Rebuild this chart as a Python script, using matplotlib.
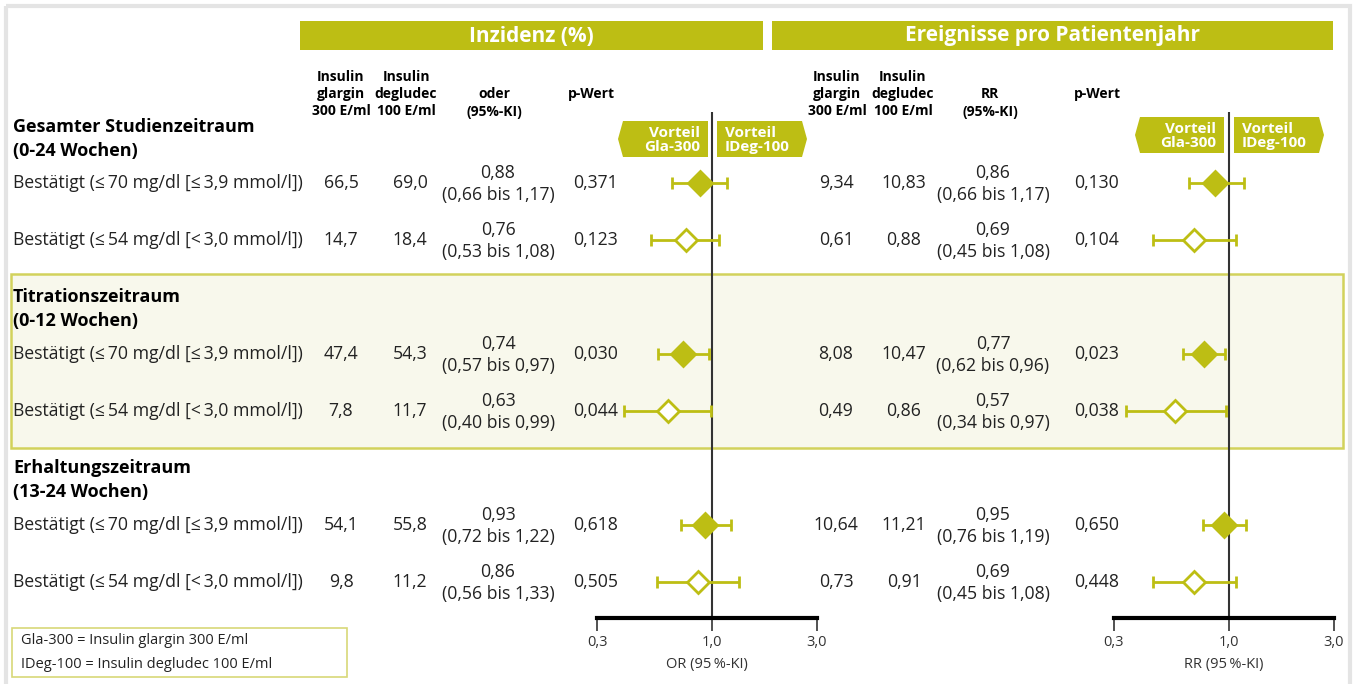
import matplotlib
matplotlib.use("Agg")
import matplotlib.pyplot as plt
from matplotlib.patches import Rectangle, Polygon
from matplotlib.ticker import FixedLocator, NullLocator

# ---- data -----------------------------------------------------------------
sections = ["Gesamter Studienzeitraum\n(0-24 Wochen)",
            "Titrationszeitraum\n(0-12 Wochen)",
            "Erhaltungszeitraum\n(13-24 Wochen)"]
row_labels = ["Bestätigt (≤\u200970 mg/dl [≤\u20093,9 mmol/l])",
              "Bestätigt (≤\u200954 mg/dl [<\u20093,0 mmol/l])"] * 3
filled = [True, False, True, False, True, False]

inc_gla = [66.5, 14.7, 47.4, 7.8, 54.1, 9.8]
inc_ideg = [69.0, 18.4, 54.3, 11.7, 55.8, 11.2]
or_est = [0.88, 0.76, 0.74, 0.63, 0.93, 0.86]
or_lo = [0.66, 0.53, 0.57, 0.40, 0.72, 0.56]
or_hi = [1.17, 1.08, 0.97, 0.99, 1.22, 1.33]
or_p = [0.371, 0.123, 0.030, 0.044, 0.618, 0.505]

rate_gla = [9.34, 0.61, 8.08, 0.49, 10.64, 0.73]
rate_ideg = [10.83, 0.88, 10.47, 0.86, 11.21, 0.91]
rr_est = [0.86, 0.69, 0.77, 0.57, 0.95, 0.69]
rr_lo = [0.66, 0.45, 0.62, 0.34, 0.76, 0.45]
rr_hi = [1.17, 1.08, 0.96, 0.97, 1.19, 1.08]
rr_p = [0.130, 0.104, 0.023, 0.038, 0.650, 0.448]

axis_ticks = [0.3, 1.0, 3.0]
axis_ticklabels = ["0,3", "1,0", "3,0"]

# ---- style ----------------------------------------------------------------
OLIVE = "#bdbe14"
TXT = "#222222"
FONT = ["Open Sans", "DejaVu Sans"]
plt.rcParams["font.family"] = FONT
FS = 12.7

W, H = 1353, 684
fig = plt.figure(figsize=(W / 100, H / 100), dpi=100)
bg = fig.add_axes([0, 0, 1, 1])
bg.set_xlim(0, W)
bg.set_ylim(H, 0)
bg.axis("off")


def de(v, nd):
    return f"{v:.{nd}f}".replace(".", ",")


# outer frame
bg.add_patch(Rectangle((6, 6), W - 9, H, fill=False, ec="#e4e4e4", lw=3))

# highlighted middle section
bg.add_patch(Rectangle((11, 274), 1332, 174, fc="#f8f8ec", ec="#d2d25c", lw=1.8))

# banner bars
for x0, x1, title in [(300, 763, "Inzidenz (%)"),
                      (772, 1333, "Ereignisse pro Patientenjahr")]:
    bg.add_patch(Rectangle((x0, 21), x1 - x0, 29, fc=OLIVE, ec="none"))
    bg.text((x0 + x1) / 2, 36, title, color="white", fontsize=15,
            fontweight="bold", ha="center", va="center")

# column headers
hdr = dict(fontsize=10, fontweight="bold", ha="center", va="center",
           color="black", linespacing=1.3)
for cx, txt in [(341, "Insulin\nglargin\n300 E/ml"),
                (406, "Insulin\ndegludec\n100 E/ml"),
                (837, "Insulin\nglargin\n300 E/ml"),
                (903, "Insulin\ndegludec\n100 E/ml")]:
    bg.text(cx, 94, txt, **hdr)
bg.text(494, 103, "oder\n(95%-KI)", **hdr)
bg.text(990, 103, "RR\n(95%-KI)", **hdr)
bg.text(591, 94, "p-Wert", **hdr)
bg.text(1097, 94, "p-Wert", **hdr)

# section titles
for y, s in zip([139, 309, 480], sections):
    bg.text(13, y, s, fontsize=13, fontweight="bold", ha="left",
            va="center", color="black", linespacing=1.38)

# table rows
row_y = [183, 240, 354, 411, 525, 582]
two_line = dict(fontsize=FS, ha="center", va="center", color=TXT, linespacing=1.3)
for i, y in enumerate(row_y):
    bg.text(13, y, row_labels[i], fontsize=FS, ha="left", va="center", color=TXT)
    bg.text(341, y, de(inc_gla[i], 1), fontsize=FS, ha="center", va="center", color=TXT)
    bg.text(410, y, de(inc_ideg[i], 1), fontsize=FS, ha="center", va="center", color=TXT)
    bg.text(498, y + 1, f"{de(or_est[i], 2)}\n({de(or_lo[i], 2)} bis {de(or_hi[i], 2)})",
            **two_line)
    bg.text(573, y, de(or_p[i], 3), fontsize=FS, ha="left", va="center", color=TXT)
    bg.text(836, y, de(rate_gla[i], 2), fontsize=FS, ha="center", va="center", color=TXT)
    bg.text(904, y, de(rate_ideg[i], 2), fontsize=FS, ha="center", va="center", color=TXT)
    bg.text(993, y + 1, f"{de(rr_est[i], 2)}\n({de(rr_lo[i], 2)} bis {de(rr_hi[i], 2)})",
            **two_line)
    bg.text(1074, y, de(rr_p[i], 3), fontsize=FS, ha="left", va="center", color=TXT)


# "Vorteil" arrow boxes
def arrow_box(x0, x1, y0, y1, point_left, lines):
    tip = 5
    ym = (y0 + y1) / 2 + 1
    if point_left:
        pts = [(x0, (y0 + y1) / 2), (x0 + tip, y0), (x1, y0), (x1, y1), (x0 + tip, y1)]
        bg.text(x1 - 8, ym, lines, color="white", fontsize=11, fontweight="bold",
                ha="right", va="center", linespacing=0.92)
    else:
        pts = [(x0, y0), (x1 - tip, y0), (x1, (y0 + y1) / 2), (x1 - tip, y1), (x0, y1)]
        bg.text(x0 + 8, ym, lines, color="white", fontsize=11, fontweight="bold",
                ha="left", va="center", linespacing=0.92)
    bg.add_patch(Polygon(pts, closed=True, fc=OLIVE, ec="none"))


arrow_box(618, 708, 121, 157, True, "Vorteil\nGla-300")
arrow_box(717, 807, 121, 157, False, "Vorteil\nIDeg-100")
arrow_box(1135, 1224, 117, 153, True, "Vorteil\nGla-300")
arrow_box(1234, 1324, 117, 153, False, "Vorteil\nIDeg-100")

# legend box
bg.add_patch(Rectangle((12, 628), 335, 49, fill=False, ec="#d8d878", lw=1.2))
bg.text(21, 640, "Gla-300 = Insulin glargin 300 E/ml", fontsize=10.5,
        ha="left", va="center", color=TXT)
bg.text(21, 664, "IDeg-100 = Insulin degludec 100 E/ml", fontsize=10.5,
        ha="left", va="center", color=TXT)


# ---- forest panels ----------------------------------------------------------
def forest(x_left, x_right, est, lo, hi, xlabel):
    y_top, y_bot = 112, 618
    ax = fig.add_axes([x_left / W, 1 - y_bot / H, (x_right - x_left) / W,
                       (y_bot - y_top) / H])
    ax.set_facecolor("none")
    ax.set_xscale("log")
    ax.set_xlim(0.3, 3.0)
    ax.set_ylim(y_bot, y_top)
    for s in ["top", "left", "right"]:
        ax.spines[s].set_visible(False)
    ax.spines["bottom"].set_linewidth(3)
    ax.spines["bottom"].set_color("black")
    ax.xaxis.set_major_locator(FixedLocator(axis_ticks))
    ax.xaxis.set_minor_locator(NullLocator())
    ax.set_xticklabels(axis_ticklabels)
    ax.tick_params(axis="x", direction="out", length=9, width=1.2, color="#333333",
                   labelsize=10.5, labelcolor="#333333", pad=3)
    ax.set_yticks([])
    ax.set_xlabel(xlabel, fontsize=10.5, color="#333333", labelpad=5)
    ax.axvline(1.0, color="#333333", lw=1.5, zorder=1)
    for i, y in enumerate(row_y):
        ax.errorbar(est[i], y, xerr=[[est[i] - lo[i]], [hi[i] - est[i]]],
                    fmt="none", ecolor=OLIVE, elinewidth=2, capsize=4,
                    capthick=2, zorder=3)
        ax.plot(est[i], y, marker="D", ms=12 if filled[i] else 11,
                mfc=OLIVE if filled[i] else "white", mec=OLIVE, mew=2,
                zorder=4, clip_on=False)
    return ax


forest(597, 817, or_est, or_lo, or_hi, "OR (95\u2009%-KI)")
forest(1114, 1334, rr_est, rr_lo, rr_hi, "RR (95\u2009%-KI)")

fig.savefig("out.png", dpi=100)
